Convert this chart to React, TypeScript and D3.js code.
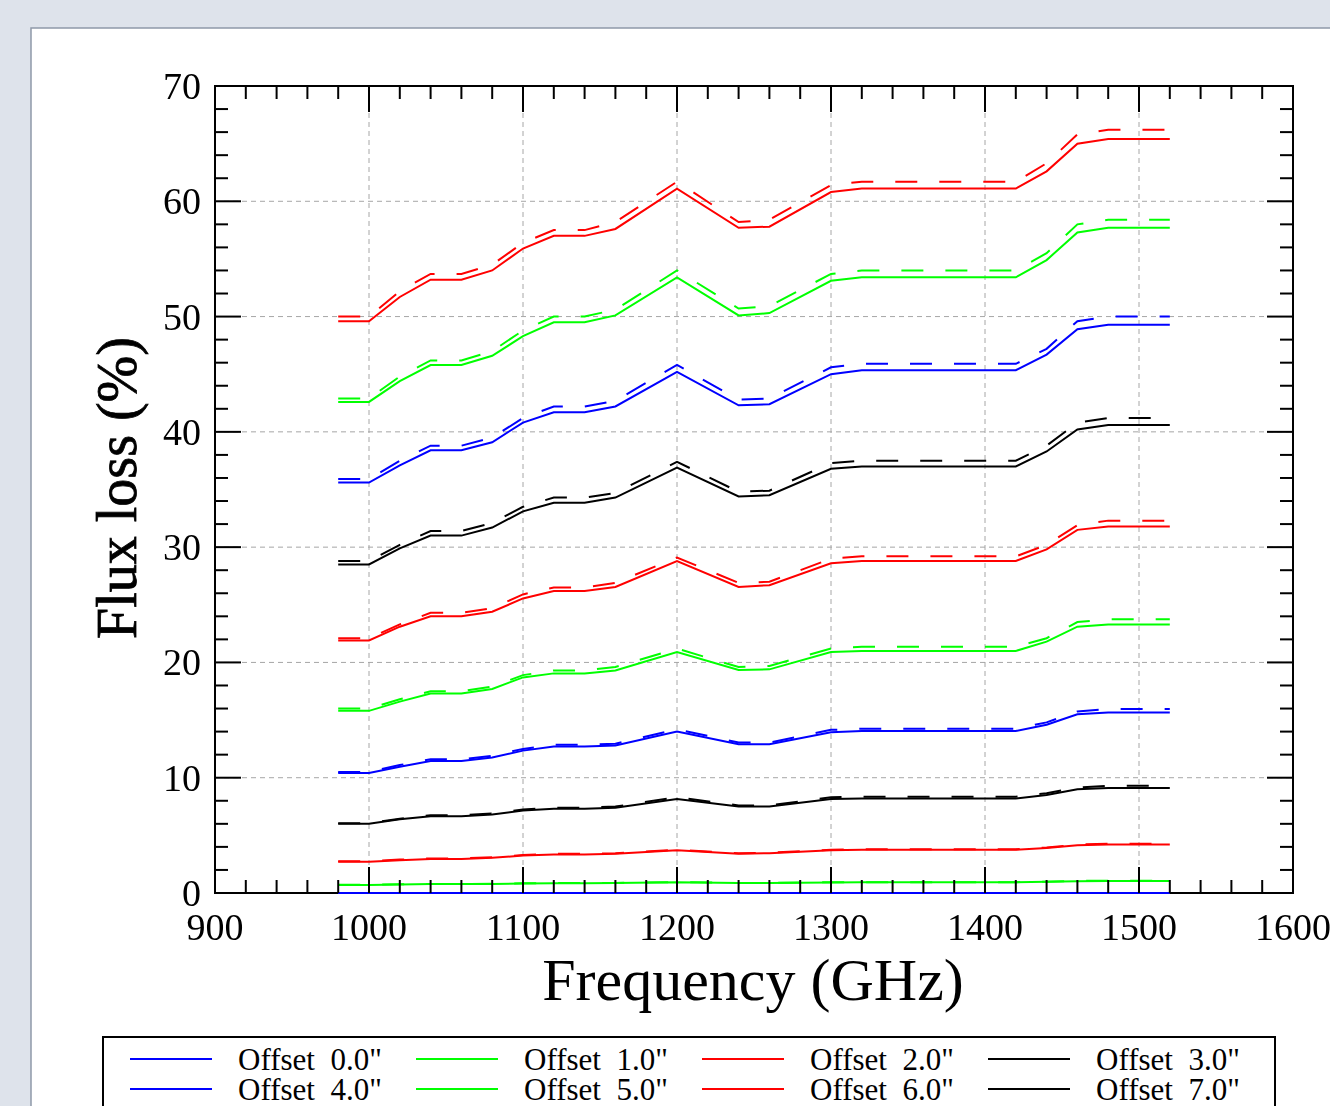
import React from 'react';
import * as d3 from 'd3';

// frequency samples (GHz)
const frequencies = [980, 1000, 1020, 1040, 1060, 1080, 1100, 1120, 1140, 1160, 1200, 1240, 1260, 1300, 1320, 1420, 1440, 1460, 1480, 1520];

const offsetLabels = ['0.0', '1.0', '2.0', '3.0', '4.0', '5.0', '6.0', '7.0', '8.0', '9.0', '10.0'];
const seriesColors = ['#0000ff', '#00ff00', '#ff0000', '#000000'];

// flux loss (%) per offset, solid curves
const solid0 = [0, 0, 0, 0, 0, 0, 0, 0, 0, 0, 0, 0, 0, 0, 0, 0, 0, 0, 0, 0];
const solid1 = [0.7, 0.7, 0.74, 0.77, 0.77, 0.79, 0.83, 0.85, 0.85, 0.86, 0.93, 0.86, 0.87, 0.92, 0.93, 0.93, 0.97, 1.03, 1.05, 1.05];
const solid2 = [2.7, 2.7, 2.85, 2.95, 2.95, 3.05, 3.25, 3.35, 3.35, 3.4, 3.7, 3.4, 3.45, 3.7, 3.75, 3.75, 3.9, 4.15, 4.2, 4.2];
const solid3 = [6.0, 6.0, 6.4, 6.65, 6.65, 6.8, 7.15, 7.3, 7.3, 7.4, 8.15, 7.5, 7.5, 8.15, 8.2, 8.2, 8.5, 9.0, 9.1, 9.1];
const solid4 = [10.4, 10.4, 10.95, 11.45, 11.45, 11.75, 12.35, 12.7, 12.7, 12.8, 14.0, 12.9, 12.9, 13.95, 14.05, 14.05, 14.6, 15.5, 15.65, 15.65];
const solid5 = [15.8, 15.8, 16.6, 17.3, 17.3, 17.7, 18.7, 19.05, 19.05, 19.3, 20.9, 19.35, 19.4, 20.9, 21.0, 21.0, 21.8, 23.1, 23.3, 23.3];
const solid6 = [21.9, 21.9, 23.1, 24.0, 24.0, 24.4, 25.55, 26.2, 26.2, 26.55, 28.8, 26.55, 26.7, 28.6, 28.8, 28.8, 29.8, 31.5, 31.8, 31.8];
const solid7 = [28.5, 28.5, 29.9, 31.0, 31.0, 31.7, 33.1, 33.85, 33.85, 34.3, 36.9, 34.4, 34.5, 36.8, 37.0, 37.0, 38.3, 40.2, 40.6, 40.6];
const solid8 = [35.6, 35.6, 37.1, 38.4, 38.4, 39.1, 40.8, 41.7, 41.7, 42.2, 45.2, 42.3, 42.4, 45.0, 45.35, 45.35, 46.7, 48.9, 49.3, 49.3];
const solid9 = [42.6, 42.6, 44.4, 45.8, 45.8, 46.6, 48.3, 49.5, 49.5, 50.1, 53.4, 50.1, 50.3, 53.1, 53.4, 53.4, 54.9, 57.3, 57.7, 57.7];
const solid10 = [49.6, 49.6, 51.7, 53.2, 53.2, 54.0, 55.9, 57.0, 57.0, 57.6, 61.1, 57.7, 57.8, 60.8, 61.1, 61.1, 62.6, 65.0, 65.4, 65.4];

// dashed curves
const dashed0 = [0, 0, 0, 0, 0, 0, 0, 0, 0, 0, 0, 0, 0, 0, 0, 0, 0, 0, 0, 0];
const dashed1 = [0.71, 0.71, 0.75, 0.78, 0.78, 0.8, 0.84, 0.86, 0.86, 0.87, 0.94, 0.87, 0.88, 0.93, 0.94, 0.94, 0.98, 1.05, 1.07, 1.07];
const dashed2 = [2.75, 2.75, 2.9, 3.0, 3.0, 3.1, 3.3, 3.4, 3.4, 3.45, 3.75, 3.45, 3.5, 3.75, 3.8, 3.8, 3.95, 4.2, 4.28, 4.28];
const dashed3 = [6.05, 6.05, 6.45, 6.75, 6.75, 6.9, 7.25, 7.4, 7.4, 7.5, 8.3, 7.6, 7.6, 8.3, 8.35, 8.35, 8.65, 9.15, 9.3, 9.3];
const dashed4 = [10.5, 10.5, 11.1, 11.6, 11.6, 11.9, 12.5, 12.85, 12.85, 12.95, 14.2, 13.05, 13.05, 14.15, 14.25, 14.25, 14.8, 15.75, 15.95, 15.95];
const dashed5 = [16.0, 16.0, 16.8, 17.5, 17.5, 17.9, 18.9, 19.3, 19.3, 19.6, 21.2, 19.6, 19.7, 21.2, 21.35, 21.35, 22.1, 23.5, 23.75, 23.75];
const dashed6 = [22.1, 22.1, 23.3, 24.3, 24.3, 24.7, 25.9, 26.5, 26.5, 26.9, 29.1, 26.9, 27.0, 29.0, 29.2, 29.2, 30.2, 31.9, 32.3, 32.3];
const dashed7 = [28.8, 28.8, 30.2, 31.4, 31.4, 32.1, 33.5, 34.3, 34.3, 34.7, 37.4, 34.8, 34.9, 37.3, 37.5, 37.5, 38.8, 40.8, 41.2, 41.2];
const dashed8 = [35.9, 35.9, 37.5, 38.8, 38.8, 39.5, 41.2, 42.2, 42.2, 42.7, 45.8, 42.8, 42.9, 45.6, 45.9, 45.9, 47.2, 49.6, 50.0, 50.0];
const dashed9 = [42.9, 42.9, 44.8, 46.2, 46.2, 47.0, 48.8, 50.0, 50.0, 50.6, 54.0, 50.7, 50.9, 53.7, 54.0, 54.0, 55.5, 58.0, 58.4, 58.4];
const dashed10 = [50.0, 50.0, 52.2, 53.7, 53.7, 54.5, 56.4, 57.5, 57.5, 58.2, 61.7, 58.2, 58.4, 61.4, 61.7, 61.7, 63.3, 65.8, 66.2, 66.2];

const solidSeries = [solid0, solid1, solid2, solid3, solid4, solid5, solid6, solid7, solid8, solid9, solid10];
const dashedSeries = [dashed0, dashed1, dashed2, dashed3, dashed4, dashed5, dashed6, dashed7, dashed8, dashed9, dashed10];

const W = 1330;
const H = 1106;
const FONT = '"Liberation Serif", "Times New Roman", serif';

export default function App() {
  const left = 215, right = 1293, top = 86, bottom = 893;
  const x = d3.scaleLinear().domain([900, 1600]).range([left, right]);
  const y = d3.scaleLinear().domain([0, 70]).range([bottom, top]);

  const line = d3.line<number>()
    .x((_, i) => x(frequencies[i]))
    .y(d => y(d));

  const xMajor = x.ticks(7);
  const xMinor = d3.range(900, 1601, 20).filter(v => v % 100 !== 0);
  const yMajor = y.ticks(7);
  const yMinor = d3.range(0, 71, 2).filter(v => v % 10 !== 0);

  const legendLeft = 103, legendTop = 1037, colStep = 286, rowStep = 30;

  return (
    <svg width={W} height={H} style={{ position: 'fixed', left: 0, top: 0, display: 'block' }}>
      <rect x={0} y={0} width={W} height={H} fill="#dee3eb" />
      <rect x={31} y={28} width={W} height={H} fill="#ffffff" stroke="#8f99a9" strokeWidth={1.5} />

      {/* grid */}
      <g stroke="#a6a6a6" strokeWidth={1} strokeDasharray="5,4">
        {xMajor.filter(v => v > 900 && v < 1600).map(v => (
          <line key={'gx' + v} x1={x(v)} x2={x(v)} y1={top} y2={bottom} />
        ))}
        {yMajor.filter(v => v > 0 && v < 70).map(v => (
          <line key={'gy' + v} x1={left} x2={right} y1={y(v)} y2={y(v)} />
        ))}
      </g>

      <rect x={left} y={top} width={right - left} height={bottom - top} fill="none" stroke="#000" strokeWidth={2} />

      {/* curves */}
      <g fill="none" strokeWidth={2}>
        {solidSeries.map((s, i) => (
          <path key={'s' + i} d={line(s) || ''} stroke={seriesColors[i % 4]} />
        ))}
        {dashedSeries.map((s, i) => (
          <path key={'d' + i} d={line(s) || ''} stroke={seriesColors[i % 4]} strokeDasharray="22,22" />
        ))}
      </g>

      {/* ticks */}
      <g stroke="#000" strokeWidth={2}>
        {xMajor.map(v => (
          <g key={'xM' + v}>
            <line x1={x(v)} x2={x(v)} y1={bottom} y2={bottom - 26} />
            <line x1={x(v)} x2={x(v)} y1={top} y2={top + 26} />
          </g>
        ))}
        {xMinor.map(v => (
          <g key={'xm' + v}>
            <line x1={x(v)} x2={x(v)} y1={bottom} y2={bottom - 13} />
            <line x1={x(v)} x2={x(v)} y1={top} y2={top + 13} />
          </g>
        ))}
        {yMajor.map(v => (
          <g key={'yM' + v}>
            <line x1={left} x2={left + 26} y1={y(v)} y2={y(v)} />
            <line x1={right} x2={right - 26} y1={y(v)} y2={y(v)} />
          </g>
        ))}
        {yMinor.map(v => (
          <g key={'ym' + v}>
            <line x1={left} x2={left + 13} y1={y(v)} y2={y(v)} />
            <line x1={right} x2={right - 13} y1={y(v)} y2={y(v)} />
          </g>
        ))}
      </g>

      {/* tick labels */}
      <g fontFamily={FONT} fontSize={38} fill="#000">
        {xMajor.map(v => (
          <text key={'xl' + v} x={x(v)} y={940} textAnchor="middle">{v}</text>
        ))}
        {yMajor.map(v => (
          <text key={'yl' + v} x={201} y={y(v) + 13} textAnchor="end">{v}</text>
        ))}
      </g>

      <text x={753} y={1000} textAnchor="middle" fontFamily={FONT} fontSize={60}>Frequency (GHz)</text>
      <text transform="translate(136,488) rotate(-90)" textAnchor="middle" fontFamily={FONT} fontSize={56}
        stroke="#000" strokeWidth={0.8}>Flux loss (%)</text>

      {/* legend */}
      <rect x={legendLeft} y={legendTop} width={1172} height={200} fill="#fff" stroke="#000" strokeWidth={2} />
      <g fontFamily={FONT} fontSize={31}>
        {offsetLabels.map((lab, i) => {
          const col = i % 4;
          const row = Math.floor(i / 4);
          const lx = legendLeft + 27 + col * colStep;
          const ly = legendTop + 22 + row * rowStep;
          return (
            <g key={'lg' + i}>
              <line x1={lx} x2={lx + 82} y1={ly} y2={ly} stroke={seriesColors[col]} strokeWidth={2} />
              <text x={lx + 108} y={ly + 11} style={{ whiteSpace: 'pre' }}>{`Offset  ${lab}"`}</text>
            </g>
          );
        })}
      </g>
    </svg>
  );
}
